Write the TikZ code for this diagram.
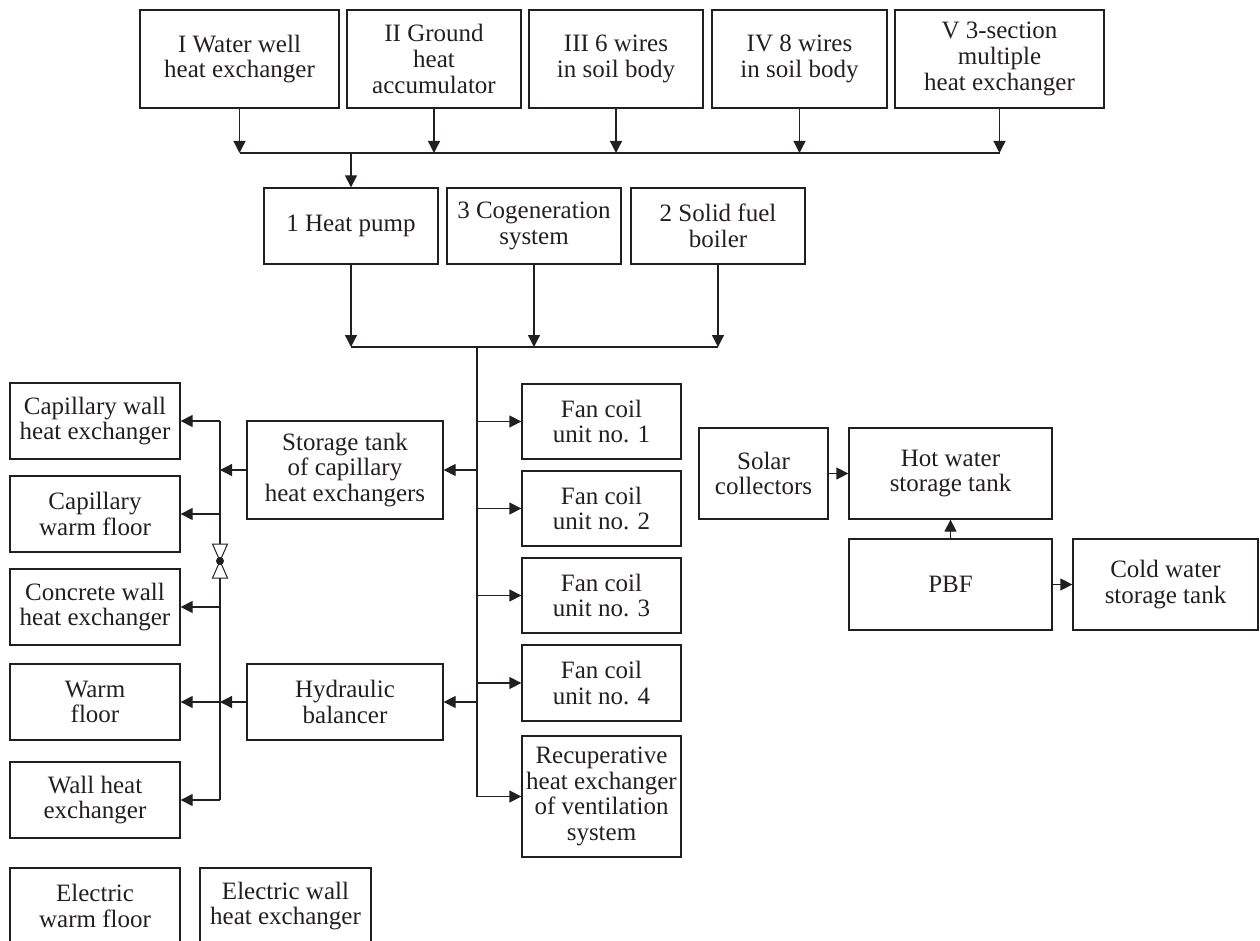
\documentclass[tikz,border=0pt]{standalone}
\usepackage{fontspec}
\setmainfont{Liberation Serif}
\usetikzlibrary{arrows.meta}
\definecolor{ink}{HTML}{231F20}
\newcommand\mybox[6]{\node[box, minimum width={(#3-#2)*1pt}, minimum height={(#5-#4)*1pt}] (#1) at ({(#2+#3)/2},{(#4+#5)/2}) {#6};}
\begin{document}
\begin{tikzpicture}[x=1pt,y=-1pt,
  box/.style={draw=ink, line width=1.3pt, inner sep=0pt, align=center, text=ink, font=\fontsize{25}{25.7}\selectfont},
  link/.style={draw=ink, line width=1.3pt},
  arr/.style={link, -{Triangle[length=12pt,width=12pt]}}]
\useasboundingbox (0,0) rectangle (1260,941);
% top row
\mybox{t1}{140}{339}{10}{108}{I Water well\\heat exchanger}
\mybox{t2}{347}{521}{10}{108}{II Ground\\heat\\accumulator}
\mybox{t3}{529}{703}{10}{108}{III 6 wires\\in soil body}
\mybox{t4}{712}{887}{10}{108}{IV 8 wires\\in soil body}
\mybox{t5}{895}{1104}{10}{108}{V 3-section\\multiple\\heat exchanger}
% middle row
\mybox{hp}{264}{438}{188}{264}{1 Heat pump}
\mybox{cg}{447}{621}{188}{264}{3 Cogeneration\\system}
\mybox{sb}{631}{805}{188}{264}{2 Solid fuel\\boiler}
% storage / balancer
\mybox{st}{247}{443}{421}{519}{Storage tank\\of capillary\\heat exchangers}
\mybox{hb}{247}{443}{664}{740}{Hydraulic\\balancer}
% left column
\mybox{l1}{10}{180}{383}{459}{Capillary wall\\heat exchanger}
\mybox{l2}{10}{180}{476}{552}{Capillary\\warm floor}
\mybox{l3}{10}{180}{569}{645}{Concrete wall\\heat exchanger}
\mybox{l4}{10}{180}{664}{740}{Warm\\floor}
\mybox{l5}{10}{180}{762}{838}{Wall heat\\exchanger}
% fan coils
\mybox{f1}{522}{681}{384}{459}{Fan coil\\unit no. 1}
\mybox{f2}{522}{681}{471}{546}{Fan coil\\unit no. 2}
\mybox{f3}{522}{681}{558}{633}{Fan coil\\unit no. 3}
\mybox{f4}{522}{681}{645}{721}{Fan coil\\unit no. 4}
\mybox{f5}{522}{681}{736}{857}{Recuperative\\heat exchanger\\of ventilation\\system}
% right group
\mybox{sol}{699}{828}{428}{519}{Solar\\collectors}
\mybox{hw}{849}{1052}{428}{519}{Hot water\\storage tank}
\mybox{pbf}{849}{1052}{539}{630}{PBF}
\mybox{cw}{1073}{1258}{539}{630}{Cold water\\storage tank}
% bottom
\mybox{e1}{10}{180}{868}{944}{Electric\\warm floor}
\mybox{e2}{200}{371}{868}{944}{Electric wall\\heat exchanger}
% top bus
\coordinate (busL) at (239.5,153);
\coordinate (busR) at (999.5,153);
\draw[link] (busL) -- (busR);
\foreach \t in {t1,t2,t3,t4,t5} \draw[arr] (\t.south) -- (\t.south |- busL);
\draw[arr] (hp.north |- busL) -- (hp.north);
% middle bus and trunk
\coordinate (mbus) at (477,347);
\coordinate (trunkEnd) at (477,796.5);
\draw[link] (hp.south |- mbus) -- (sb.south |- mbus);
\foreach \m in {hp,cg,sb} \draw[arr] (\m.south) -- (\m.south |- mbus);
\draw[link] (mbus) -- (trunkEnd);
\foreach \f in {f1,f2,f3,f4,f5} \draw[arr] (mbus |- \f.west) -- (\f.west);
\draw[arr] (mbus |- st.east) -- (st.east);
\draw[arr] (mbus |- hb.east) -- (hb.east);
% collector
\coordinate (colTop) at (220,421);
\coordinate (colBot) at (220,800);
\draw[link] (colTop) -- (colBot);
\draw[arr] (st.west) -- (colTop |- st.west);
\draw[arr] (hb.west) -- (colTop |- hb.west);
\foreach \l in {l1,l2,l3,l4,l5} \draw[arr] (colTop |- \l.east) -- (\l.east);
% valve
\coordinate (valve) at (220,561);
\filldraw[fill=white, draw=ink, line width=1pt, line join=miter] (212.5,544) -- (227.5,544) -- (valve) -- cycle;
\filldraw[fill=white, draw=ink, line width=1pt, line join=miter] (212.5,578) -- (227.5,578) -- (valve) -- cycle;
\fill[ink] (valve) circle (4pt);
% right group
\draw[arr] (sol.east) -- (hw.west);
\draw[arr] (pbf.north) -- (hw.south);
\draw[arr] (pbf.east) -- (cw.west);
\end{tikzpicture}
\end{document}
